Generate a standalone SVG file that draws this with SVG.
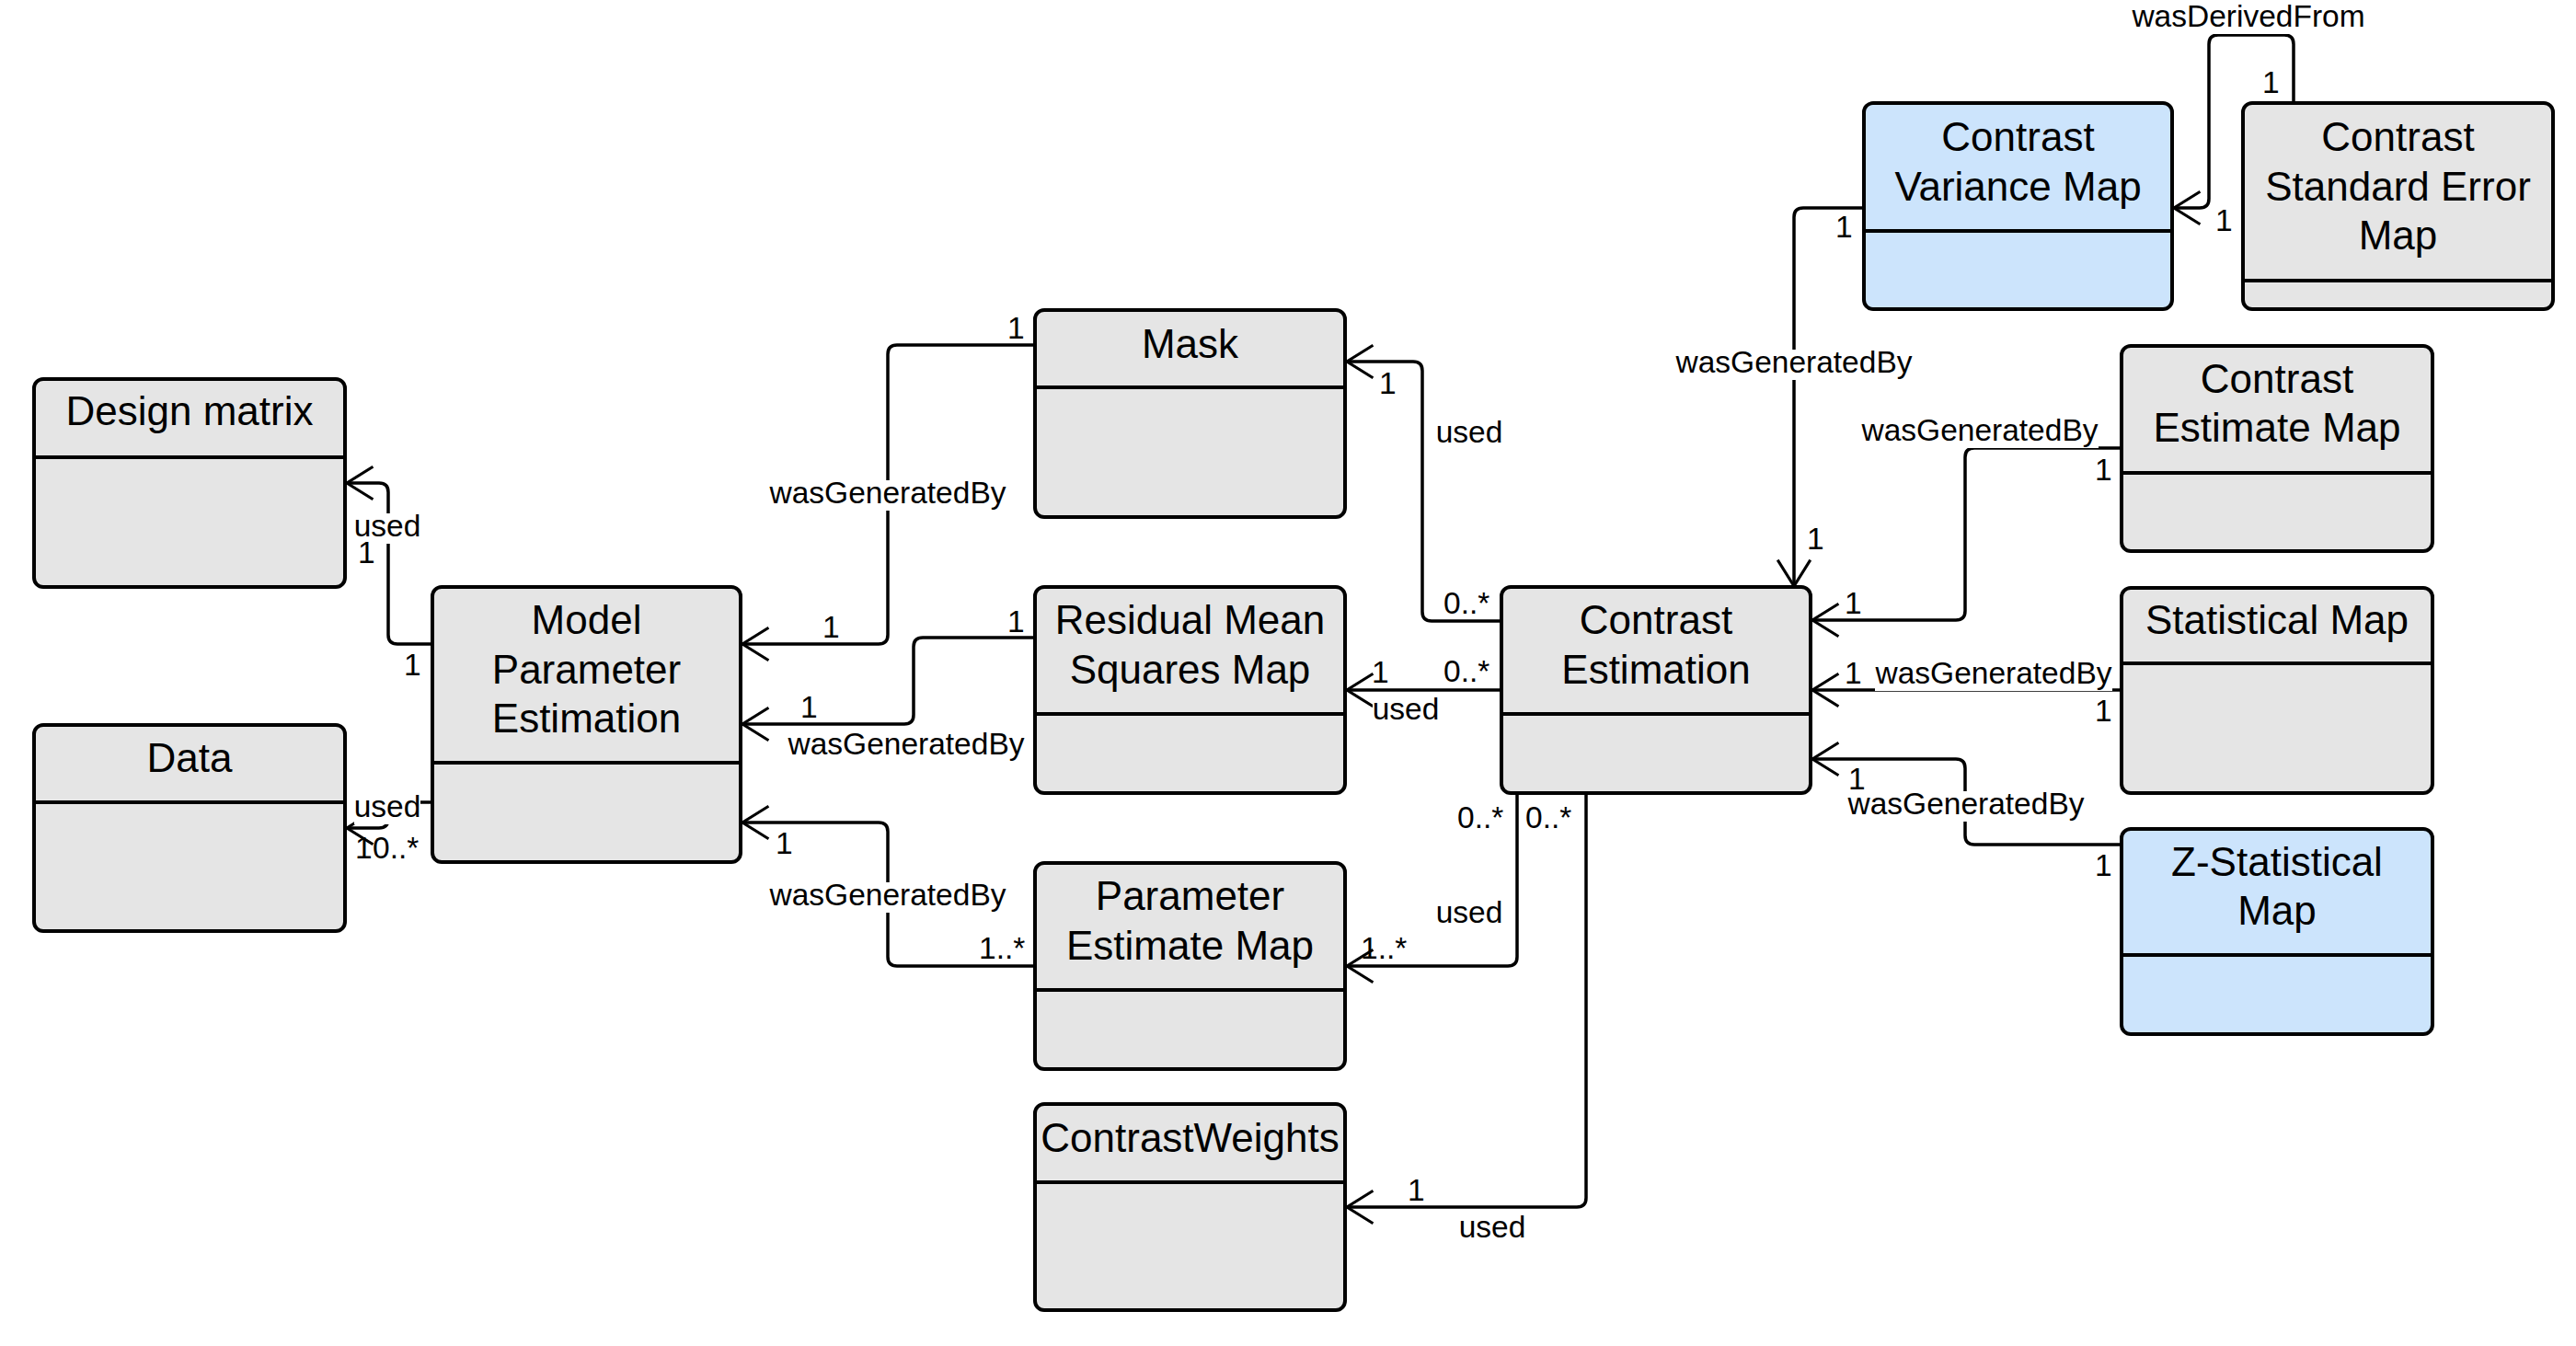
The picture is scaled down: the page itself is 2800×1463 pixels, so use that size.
<svg xmlns="http://www.w3.org/2000/svg" width="2800" height="1463" viewBox="0 0 2800 1463">
<style>
.box{stroke:#000;stroke-width:4;fill:#e5e5e5}
.blue{fill:#cce4fc}
.div{stroke:#000;stroke-width:4}
.t{font-family:"Liberation Sans",Arial,sans-serif;font-size:44px;fill:#000;text-anchor:middle}
.e{stroke:#000;stroke-width:3.5;fill:none;marker-end:url(#arr)}
.l{font-family:"Liberation Sans",Arial,sans-serif;font-size:33.5px;fill:#000}
.lm{text-anchor:middle}
.bg{fill:#fff}
</style>
<defs>
<marker id="arr" markerUnits="userSpaceOnUse" orient="auto" refX="0" refY="0" markerWidth="40" markerHeight="50" viewBox="-40 -25 45 50" overflow="visible">
<path d="M -32 -20 L 0 0 L -32 20" fill="none" stroke="#000" stroke-width="3.5"/>
</marker>
</defs>
<rect width="2800" height="1463" fill="#fff"/>

<g id="design-matrix"><rect class="box" x="37" y="412" width="338" height="226" rx="10"/><line class="div" x1="37" y1="497" x2="375" y2="497"/><text class="t" x="206" y="462">Design matrix</text></g>
<g id="data"><rect class="box" x="37" y="788" width="338" height="224" rx="10"/><line class="div" x1="37" y1="872" x2="375" y2="872"/><text class="t" x="206" y="839">Data</text></g>
<g id="model-parameter-estimation"><rect class="box" x="470" y="638" width="335" height="299" rx="10"/><line class="div" x1="470" y1="829" x2="805" y2="829"/><text class="t" x="637.5" y="689">Model</text><text class="t" x="637.5" y="743">Parameter</text><text class="t" x="637.5" y="796">Estimation</text></g>
<g id="mask"><rect class="box" x="1125" y="337" width="337" height="225" rx="10"/><line class="div" x1="1125" y1="421" x2="1462" y2="421"/><text class="t" x="1293.5" y="389">Mask</text></g>
<g id="residual-mean-squares-map"><rect class="box" x="1125" y="638" width="337" height="224" rx="10"/><line class="div" x1="1125" y1="776" x2="1462" y2="776"/><text class="t" x="1293.5" y="689">Residual Mean</text><text class="t" x="1293.5" y="743">Squares Map</text></g>
<g id="parameter-estimate-map"><rect class="box" x="1125" y="938" width="337" height="224" rx="10"/><line class="div" x1="1125" y1="1076" x2="1462" y2="1076"/><text class="t" x="1293.5" y="989">Parameter</text><text class="t" x="1293.5" y="1043">Estimate Map</text></g>
<g id="contrast-weights"><rect class="box" x="1125" y="1200" width="337" height="224" rx="10"/><line class="div" x1="1125" y1="1285" x2="1462" y2="1285"/><text class="t" x="1293.5" y="1252">ContrastWeights</text></g>
<g id="contrast-estimation"><rect class="box" x="1632" y="638" width="336" height="224" rx="10"/><line class="div" x1="1632" y1="776" x2="1968" y2="776"/><text class="t" x="1800" y="689">Contrast</text><text class="t" x="1800" y="743">Estimation</text></g>
<g id="contrast-variance-map"><rect class="box blue" x="2026" y="112" width="335" height="224" rx="10"/><line class="div" x1="2026" y1="251" x2="2361" y2="251"/><text class="t" x="2193.5" y="164">Contrast</text><text class="t" x="2193.5" y="218">Variance Map</text></g>
<g id="contrast-standard-error-map"><rect class="box" x="2438" y="112" width="337" height="224" rx="10"/><line class="div" x1="2438" y1="305" x2="2775" y2="305"/><text class="t" x="2606.5" y="164">Contrast</text><text class="t" x="2606.5" y="218">Standard Error</text><text class="t" x="2606.5" y="271">Map</text></g>
<g id="contrast-estimate-map"><rect class="box" x="2306" y="376" width="338" height="223" rx="10"/><line class="div" x1="2306" y1="514" x2="2644" y2="514"/><text class="t" x="2475" y="427">Contrast</text><text class="t" x="2475" y="480">Estimate Map</text></g>
<g id="statistical-map"><rect class="box" x="2306" y="639" width="338" height="223" rx="10"/><line class="div" x1="2306" y1="721" x2="2644" y2="721"/><text class="t" x="2475" y="689">Statistical Map</text></g>
<g id="z-statistical-map"><rect class="box blue" x="2306" y="901" width="338" height="223" rx="10"/><line class="div" x1="2306" y1="1038" x2="2644" y2="1038"/><text class="t" x="2475" y="952">Z-Statistical</text><text class="t" x="2475" y="1005">Map</text></g>

<g id="connectors">
<path class="e" d="M 470 700 H 432 Q 422 700 422 690 V 535 Q 422 525 412 525 H 377"/>
<path class="e" d="M 470 872 H 432 Q 422 872 422 882 V 890 Q 422 900 412 900 H 377"/>
<path class="e" d="M 1125 375 H 975 Q 965 375 965 385 V 690 Q 965 700 955 700 H 807"/>
<path class="e" d="M 1125 693 H 1003 Q 993 693 993 703 V 777 Q 993 787 983 787 H 807"/>
<path class="e" d="M 1125 1050 H 975 Q 965 1050 965 1040 V 904 Q 965 894 955 894 H 807"/>
<path class="e" d="M 1632 675 H 1556 Q 1546 675 1546 665 V 403 Q 1546 393 1536 393 H 1464"/>
<path class="e" d="M 1632 750 H 1464"/>
<path class="e" d="M 1649 862 V 1040 Q 1649 1050 1639 1050 H 1464"/>
<path class="e" d="M 1724 862 V 1302 Q 1724 1312 1714 1312 H 1464"/>
<path class="e" d="M 2026 226 H 1960 Q 1950 226 1950 236 V 637"/>
<path class="e" d="M 2493 112 V 48 Q 2493 38 2483 38 H 2411 Q 2401 38 2401 48 V 216 Q 2401 226 2391 226 H 2363"/>
<path class="e" d="M 2306 487 H 2146 Q 2136 487 2136 497 V 664 Q 2136 674 2126 674 H 1970"/>
<path class="e" d="M 2306 750 H 1970"/>
<path class="e" d="M 2306 918 H 2146 Q 2136 918 2136 908 V 835 Q 2136 825 2126 825 H 1970"/>
</g>

<g id="labels">
<rect class="bg" x="385" y="558" width="72" height="33"/><text class="l lm" x="421" y="583">used</text>
<rect class="bg" x="385" y="863" width="72" height="33"/><text class="l lm" x="421" y="888">used</text>
<rect class="bg" x="836" y="522" width="258" height="33"/><text class="l lm" x="965" y="547">wasGeneratedBy</text>
<rect class="bg" x="856" y="795" width="258" height="33"/><text class="l lm" x="985" y="820">wasGeneratedBy</text>
<rect class="bg" x="836" y="959" width="258" height="33"/><text class="l lm" x="965" y="984">wasGeneratedBy</text>
<rect class="bg" x="1561" y="456" width="72" height="33"/><text class="l lm" x="1597" y="481">used</text>
<rect class="bg" x="1492" y="757" width="72" height="33"/><text class="l lm" x="1528" y="782">used</text>
<rect class="bg" x="1561" y="978" width="72" height="33"/><text class="l lm" x="1597" y="1003">used</text>
<rect class="bg" x="1586" y="1320" width="72" height="33"/><text class="l lm" x="1622" y="1345">used</text>
<rect class="bg" x="2317" y="4" width="254" height="33"/><text class="l lm" x="2444" y="29">wasDerivedFrom</text>
<rect class="bg" x="1821" y="380" width="258" height="33"/><text class="l lm" x="1950" y="405">wasGeneratedBy</text>
<rect class="bg" x="2023" y="454" width="258" height="33"/><text class="l lm" x="2152" y="479">wasGeneratedBy</text>
<rect class="bg" x="2038" y="718" width="258" height="33"/><text class="l lm" x="2167" y="743">wasGeneratedBy</text>
<rect class="bg" x="2008" y="860" width="258" height="33"/><text class="l lm" x="2137" y="885">wasGeneratedBy</text>

<text class="l" x="389" y="612">1</text>
<text class="l" x="439" y="734">1</text>
<text class="l" x="386" y="933">1</text>
<text class="l" x="405" y="933">0..*</text>
<text class="l" x="1095" y="368">1</text>
<text class="l" x="894" y="693">1</text>
<text class="l" x="1095" y="687">1</text>
<text class="l" x="870" y="780">1</text>
<text class="l" x="843" y="928">1</text>
<text class="l" x="1064" y="1042">1..*</text>
<text class="l" x="1499" y="428">1</text>
<text class="l" x="1569" y="667">0..*</text>
<text class="l" x="1491" y="742">1</text>
<text class="l" x="1569" y="741">0..*</text>
<text class="l" x="1584" y="900">0..*</text>
<text class="l" x="1658" y="900">0..*</text>
<text class="l" x="1479" y="1042">1..*</text>
<text class="l" x="1530" y="1305">1</text>
<text class="l" x="2459" y="101">1</text>
<text class="l" x="2408" y="251">1</text>
<text class="l" x="1995" y="258">1</text>
<text class="l" x="1964" y="597">1</text>
<text class="l" x="2277" y="522">1</text>
<text class="l" x="2005" y="667">1</text>
<text class="l" x="2005" y="743">1</text>
<text class="l" x="2277" y="784">1</text>
<text class="l" x="2009" y="858">1</text>
<text class="l" x="2277" y="952">1</text>
</g>
</svg>
